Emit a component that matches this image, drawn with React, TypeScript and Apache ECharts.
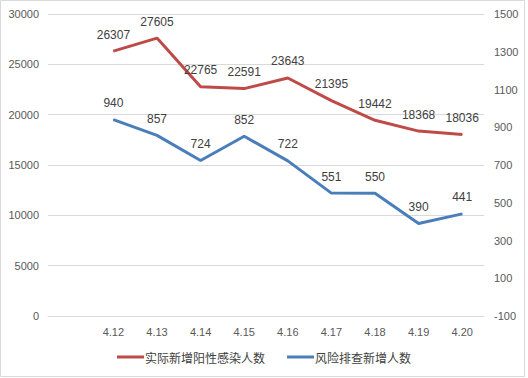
import React, { useEffect, useRef } from "react";
import * as echarts from "echarts";

const categories = ["", "4.12", "4.13", "4.14", "4.15", "4.16", "4.17", "4.18", "4.19", "4.20"];
const positiveNames = "实际新增阳性感染人数";
const riskNames = "风险排查新增人数";
const positiveValues = [null, 26307, 27605, 22765, 22591, 23643, 21395, 19442, 18368, 18036];
const riskValues = [null, 940, 857, 724, 852, 722, 551, 550, 390, 441];
const leftTicks = { min: 0, max: 30000, interval: 5000 };
const rightTicks = { min: -100, max: 1500, interval: 200 };

const RED = "#BE4B48";
const BLUE = "#4A7EBB";
const FONT = "'Liberation Sans', 'Noto Sans CJK SC', sans-serif";

export default function App() {
  const ref = useRef<HTMLDivElement>(null);
  useEffect(() => {
    if (!ref.current) return;
    const chart = echarts.init(ref.current, undefined, { renderer: "svg" });
    const labelStyle = {
      show: true,
      position: "top" as const,
      distance: 10,
      fontSize: 12,
      color: "#404040",
      fontFamily: FONT,
      formatter: (p: any) => String(p.value),
    };
    const plain = (v: number) => String(v);
    chart.setOption({
      animation: false,
      backgroundColor: "#ffffff",
      textStyle: { fontFamily: FONT },
      graphic: [
        {
          type: "rect",
          shape: { x: 0.5, y: 0.5, width: 524, height: 376 },
          style: { fill: "none", stroke: "#d9d9d9", lineWidth: 1 },
          silent: true,
        },
      ],
      grid: { left: 48, right: 44, top: 14, bottom: 62, containLabel: false },
      legend: {
        bottom: 10,
        left: "center",
        itemWidth: 27,
        itemHeight: 3,
        itemGap: 22,
        icon: "rect",
        textStyle: {
          fontSize: 12,
          color: "#404040",
          fontFamily: "'Noto Sans CJK SC', sans-serif",
          padding: [0, 0, 0, -4],
        },
        data: [positiveNames, riskNames],
      },
      xAxis: {
        type: "category",
        data: categories,
        boundaryGap: true,
        axisLine: { show: true, lineStyle: { color: "#d9d9d9", width: 1 } },
        axisTick: { show: false },
        axisLabel: { color: "#595959", fontSize: 11, margin: 10, fontFamily: FONT },
        splitLine: { show: false },
      },
      yAxis: [
        {
          type: "value",
          min: leftTicks.min,
          max: leftTicks.max,
          interval: leftTicks.interval,
          axisLine: { show: false },
          axisTick: { show: false },
          axisLabel: { color: "#595959", fontSize: 11, margin: 9, fontFamily: FONT, formatter: plain },
          splitLine: { show: true, lineStyle: { color: "#d9d9d9", width: 1 } },
        },
        {
          type: "value",
          min: rightTicks.min,
          max: rightTicks.max,
          interval: rightTicks.interval,
          position: "right",
          axisLine: { show: false },
          axisTick: { show: false },
          axisLabel: { color: "#595959", fontSize: 11, margin: 10, fontFamily: FONT, formatter: plain },
          splitLine: { show: false },
        },
      ],
      series: [
        {
          name: positiveNames,
          type: "line",
          yAxisIndex: 0,
          data: positiveValues,
          symbol: "circle",
          symbolSize: 1,
          showSymbol: true,
          lineStyle: { color: RED, width: 3 },
          itemStyle: { color: RED },
          label: labelStyle,
        },
        {
          name: riskNames,
          type: "line",
          yAxisIndex: 1,
          data: riskValues,
          symbol: "circle",
          symbolSize: 1,
          showSymbol: true,
          lineStyle: { color: BLUE, width: 3 },
          itemStyle: { color: BLUE },
          label: labelStyle,
        },
      ],
    });
    return () => chart.dispose();
  }, []);
  return (
    <div
      ref={ref}
      style={{ position: "absolute", left: 0, top: 0, width: 528, height: 378 }}
    />
  );
}
